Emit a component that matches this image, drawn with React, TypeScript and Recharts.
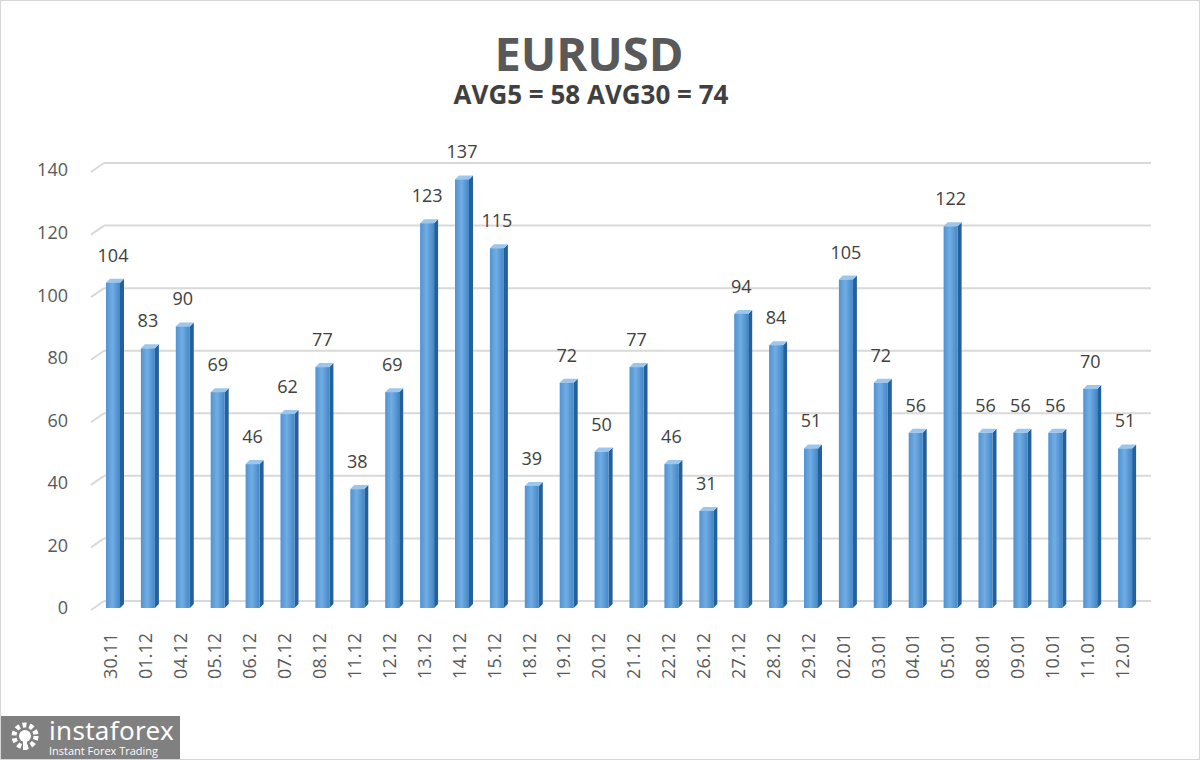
import { BarChart, Bar, XAxis, YAxis, CartesianGrid, LabelList } from 'recharts';

const dates = [
  '30.11', '01.12', '04.12', '05.12', '06.12', '07.12', '08.12', '11.12', '12.12', '13.12',
  '14.12', '15.12', '18.12', '19.12', '20.12', '21.12', '22.12', '26.12', '27.12', '28.12',
  '29.12', '02.01', '03.01', '04.01', '05.01', '08.01', '09.01', '10.01', '11.01', '12.01',
];
const volatility = [
  104, 83, 90, 69, 46, 62, 77, 38, 69, 123,
  137, 115, 39, 72, 50, 77, 46, 31, 94, 84,
  51, 105, 72, 56, 122, 56, 56, 56, 70, 51,
];
const yTicks = [0, 20, 40, 60, 80, 100, 120, 140];

const FONT = '"Open Sans", "DejaVu Sans", sans-serif';
const TEXT = '#595959';

// 3D-ish column: front face + dark side + light top
function Column(props: any) {
  const { x, y, width, height } = props;
  if (height == null || height <= 0) return null;
  const d = 4;
  return (
    <g>
      <polygon
        points={`${x + width},${y} ${x + width + d},${y - d} ${x + width + d},${y + height - d} ${x + width},${y + height}`}
        fill="#24609a"
      />
      <polygon
        points={`${x},${y} ${x + d},${y - d} ${x + width + d},${y - d} ${x + width},${y}`}
        fill="#9cc6ec"
      />
      <rect x={x} y={y} width={width} height={height} fill="url(#colGrad)" />
    </g>
  );
}

// grid line drawn on the back wall with a short diagonal on the side wall
function GridLine(props: any) {
  const { x1, y1, x2 } = props;
  const dx = 13;
  const dy = -9;
  return (
    <g key={`g-${y1}`}>
      <line x1={x1 - 5} y1={y1 + 2} x2={x1 - 5 + dx} y2={y1 + 2 + dy} stroke="#d9d9d9" strokeWidth={2} />
      <line x1={x1 - 5 + dx} y1={y1 + 2 + dy} x2={x2 + 8} y2={y1 + 2 + dy} stroke="#d9d9d9" strokeWidth={2} />
    </g>
  );
}

function DateTick(props: any) {
  const { x, y, payload } = props;
  return (
    <text
      transform={`translate(${x - 3},${y}) rotate(-90)`}
      textAnchor="end"
      dy="0.35em"
      fill={TEXT}
      fontSize={18}
      fontFamily={FONT}
    >
      {payload.value}
    </text>
  );
}

export default function App() {
  const data = dates.map((d, i) => ({ date: d, value: volatility[i] }));

  return (
    <div
      style={{
        position: 'absolute',
        left: 0,
        top: 0,
        width: 1200,
        height: 760,
        background: '#fff',
        boxSizing: 'border-box',
        border: '1px solid #d6d6d6',
        fontFamily: FONT,
      }}
    >
      <div
        style={{
          position: 'absolute',
          top: 27,
          left: 0,
          width: 1176,
          textAlign: 'center',
          fontSize: 47,
          fontWeight: 700,
          color: TEXT,
          lineHeight: '50px',
        }}
      >
        EURUSD
      </div>
      <div
        style={{
          position: 'absolute',
          top: 78,
          left: 0,
          width: 1180,
          textAlign: 'center',
          fontSize: 26,
          fontWeight: 700,
          color: '#404040',
          lineHeight: '30px',
        }}
      >
        AVG5 = 58 AVG30 = 74
      </div>

      <div style={{ position: 'absolute', left: 0, top: 0 }}>
        <BarChart
          width={1200}
          height={760}
          data={data}
          margin={{ top: 169, right: 58, bottom: 123, left: 0 }}
          barSize={14}
        >
          <defs>
            <linearGradient id="colGrad" x1="0" y1="0" x2="1" y2="0">
              <stop offset="0%" stopColor="#4f93d3" />
              <stop offset="45%" stopColor="#72ade2" />
              <stop offset="100%" stopColor="#4287c9" />
            </linearGradient>
          </defs>
          <CartesianGrid vertical={false} horizontal={GridLine} />
          <XAxis
            dataKey="date"
            axisLine={false}
            tickLine={false}
            interval={0}
            height={30}
            tick={<DateTick />}
            tickMargin={19}
          />
          <YAxis
            domain={[0, 140]}
            ticks={yTicks}
            axisLine={false}
            tickLine={false}
            width={95}
            tickMargin={22}
            tick={{ fill: TEXT, fontSize: 18, fontFamily: FONT }}
          />
          <Bar dataKey="value" shape={<Column />} isAnimationActive={false}>
            <LabelList
              dataKey="value"
              position="top"
              offset={21}
              fill="#404040"
              fontSize={18}
              fontFamily={FONT}
            />
          </Bar>
        </BarChart>
      </div>

      <div
        style={{
          position: 'absolute',
          left: 0,
          top: 715,
          width: 179,
          height: 43,
          background: '#808080',
          color: '#fff',
          display: 'flex',
          alignItems: 'center',
        }}
      >
        <svg width={40} height={36} viewBox="0 0 40 36" style={{ marginLeft: 6 }}>
          <circle cx={18} cy={16} r={11} fill="none" stroke="#fff" strokeWidth={5} strokeDasharray="4 3" />
          <circle cx={18} cy={16} r={6} fill="#fff" />
          <rect x={16} y={16} width={4} height={14} fill="#fff" />
        </svg>
        <div style={{ marginLeft: 2 }}>
          <div style={{ fontSize: 26, lineHeight: '24px', fontFamily: '"Noto Sans", sans-serif', letterSpacing: 0.3 }}>
            instaforex
          </div>
          <div style={{ fontSize: 11, lineHeight: '12px', marginTop: 3 }}>Instant Forex Trading</div>
        </div>
      </div>
    </div>
  );
}
